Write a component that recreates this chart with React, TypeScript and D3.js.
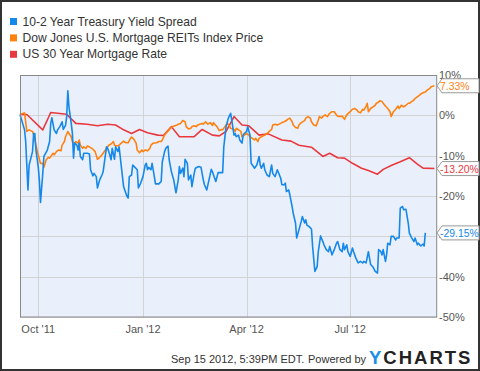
import React from "react";
import * as d3 from "d3";

const WIDTH = 480;
const HEIGHT = 371;
const plot = { left: 20, right: 436.7, top: 75, bottom: 317 };

const seriesNames = [
  "10-2 Year Treasury Yield Spread",
  "Dow Jones U.S. Mortgage REITs Index Price",
  "US 30 Year Mortgage Rate",
];
const seriesColors = ["#1588e9", "#ff8210", "#e8393f"];
const lastLabels = ["-29.15%", "7.33%", "-13.20%"];

const yTicks = [10, 0, -10, -20, -30, -40, -50];
const xTickDates = ["2011-10-01", "2012-01-01", "2012-04-01", "2012-07-01"];
const xTickLabels = ["Oct '11", "Jan '12", "Apr '12", "Jul '12"];

const spreadDates = [
  "2011-09-15", "2011-09-19", "2011-09-20", "2011-09-22", "2011-09-23", "2011-09-26", "2011-09-27", "2011-09-28", "2011-09-29",
  "2011-10-01", "2011-10-02", "2011-10-03", "2011-10-05", "2011-10-06", "2011-10-09", "2011-10-11", "2011-10-12", "2011-10-13",
  "2011-10-15", "2011-10-17", "2011-10-18", "2011-10-20", "2011-10-22", "2011-10-23", "2011-10-25", "2011-10-26", "2011-10-27",
  "2011-10-28", "2011-10-30", "2011-10-31", "2011-11-01", "2011-11-02", "2011-11-04", "2011-11-05", "2011-11-06", "2011-11-07",
  "2011-11-09", "2011-11-10", "2011-11-13", "2011-11-15", "2011-11-16", "2011-11-18", "2011-11-19", "2011-11-21", "2011-11-22",
  "2011-11-24", "2011-11-26", "2011-11-27", "2011-11-28", "2011-11-30", "2011-12-01", "2011-12-02", "2011-12-04", "2011-12-05",
  "2011-12-07", "2011-12-08", "2011-12-10", "2011-12-11", "2011-12-12", "2011-12-14", "2011-12-15", "2011-12-18", "2011-12-19",
  "2011-12-20", "2011-12-22", "2011-12-23", "2011-12-25", "2011-12-27", "2011-12-28", "2011-12-30", "2012-01-01", "2012-01-03",
  "2012-01-04", "2012-01-05", "2012-01-06", "2012-01-08", "2012-01-09", "2012-01-11", "2012-01-12", "2012-01-15", "2012-01-17",
  "2012-01-18", "2012-01-20", "2012-01-21", "2012-01-23", "2012-01-24", "2012-01-26", "2012-01-28", "2012-01-30", "2012-02-01",
  "2012-02-02", "2012-02-03", "2012-02-05", "2012-02-06", "2012-02-07", "2012-02-09", "2012-02-10", "2012-02-12", "2012-02-13",
  "2012-02-15", "2012-02-16", "2012-02-19", "2012-02-21", "2012-02-23", "2012-02-24", "2012-02-26", "2012-02-28", "2012-03-01",
  "2012-03-02", "2012-03-04", "2012-03-05", "2012-03-07", "2012-03-11", "2012-03-12", "2012-03-14", "2012-03-16", "2012-03-18",
  "2012-03-19", "2012-03-21", "2012-03-22", "2012-03-23", "2012-03-25", "2012-03-26", "2012-03-28", "2012-03-29", "2012-03-30",
  "2012-04-01", "2012-04-02", "2012-04-04", "2012-04-05", "2012-04-07", "2012-04-08", "2012-04-10", "2012-04-12", "2012-04-13",
  "2012-04-14", "2012-04-16", "2012-04-17", "2012-04-19", "2012-04-21", "2012-04-23", "2012-04-24", "2012-04-26", "2012-04-28",
  "2012-05-01", "2012-05-02", "2012-05-04", "2012-05-05", "2012-05-06", "2012-05-08", "2012-05-09", "2012-05-11", "2012-05-12",
  "2012-05-14", "2012-05-15", "2012-05-17", "2012-05-19", "2012-05-20", "2012-05-22", "2012-05-23", "2012-05-24", "2012-05-26",
  "2012-05-28", "2012-05-29", "2012-05-31", "2012-06-02", "2012-06-03", "2012-06-05", "2012-06-07", "2012-06-08", "2012-06-10",
  "2012-06-12", "2012-06-13", "2012-06-15", "2012-06-17", "2012-06-19", "2012-06-20", "2012-06-22", "2012-06-24", "2012-06-25",
  "2012-06-26", "2012-06-28", "2012-06-29", "2012-07-01", "2012-07-03", "2012-07-04", "2012-07-06", "2012-07-08", "2012-07-10",
  "2012-07-12", "2012-07-13", "2012-07-15", "2012-07-17", "2012-07-19", "2012-07-21", "2012-07-23", "2012-07-25", "2012-07-26",
  "2012-07-28", "2012-07-29", "2012-07-30", "2012-08-01", "2012-08-02", "2012-08-03", "2012-08-05", "2012-08-06", "2012-08-08",
  "2012-08-10", "2012-08-11", "2012-08-13", "2012-08-14", "2012-08-16", "2012-08-17", "2012-08-19", "2012-08-21", "2012-08-22",
  "2012-08-24", "2012-08-26", "2012-08-27", "2012-08-29", "2012-08-30", "2012-09-01", "2012-09-03", "2012-09-04", "2012-09-05",
];
const spreadValues = [
  0.2, -3.6, -6.5, -18.5, -12.3, -9, -4.5, -4.5, -8.6,
  -12.7, -16, -21.6, -14.4, -10.2, -8.6, -6.5, -2, -0.6,
  -3.6, -4.5, -3.6, -2.8, -1.6, -3.5, -2.5, -0.3, 6.1,
  2.1, -2, -4.4, -10.6, -6.9, -7.4, -8.6, -6.9, -10.2,
  -11, -9.4, -9.4, -9.6, -13.5, -15, -14.4, -15.2, -18,
  -16, -14.8, -14, -11.9, -7.8, -8.2, -9, -11, -8.2,
  -10.9, -7.8, -9, -7.8, -10.2, -15.2, -17.7, -20.1, -20.5,
  -15.2, -14.8, -12.3, -12.9, -13.5, -18, -16.8, -15.2, -12.3,
  -11.9, -13.5, -12.9, -13.5, -11.9, -15.2, -17, -17, -16.4,
  -11.5, -9, -8.2, -7.6, -11, -14, -16, -19.2, -16,
  -12.7, -14.4, -13.1, -15.2, -10.9, -11.9, -16, -14.8, -17.7,
  -14.4, -13.1, -12.7, -12.9, -16, -17.2, -18.5, -16, -13.4,
  -14, -15.6, -16.4, -14.2, -14.2, -7.8, -2.8, -0.7, 0.5,
  -1.2, -4.9, -4.5, -5.3, -4.9, -6.1, -6.9, -4.9, -4.5,
  -4, -2.8, -4.9, -11.9, -12.7, -13.1, -12.3, -10.2, -12.3,
  -13.1, -11.9, -13.5, -14.8, -15.2, -12.3, -14.4, -15.2, -13.5,
  -15.6, -17.2, -17.2, -16.8, -18.9, -18.5, -19.7, -22.6, -24.3,
  -26.7, -30.4, -28.4, -26.3, -25.1, -26.7, -25.9, -27.2, -27.6,
  -28.2, -32.5, -38.7, -37.5, -33.8, -29.9, -31.3, -32.1, -33.3,
  -33.8, -32.5, -34.6, -33.3, -31.7, -31.3, -33.3, -33.8, -31.7,
  -33.3, -32.1, -33.8, -35, -32.9, -33.8, -35.4, -36.6, -36.2,
  -36.6, -36.2, -36.6, -33.8, -37, -37.6, -38.7, -39.1, -33.3,
  -33.8, -34.6, -33.3, -36.2, -34.6, -31.7, -32.1, -30, -30,
  -30.9, -30.4, -30.4, -23, -22.6, -23.4, -23.3, -26.7, -29.2,
  -30.4, -31.3, -30.4, -32.1, -31.7, -32.4, -31.9, -32.4, -29.15,
];

const reitDates = [
  "2011-09-15", "2011-09-18", "2011-09-19", "2011-09-21", "2011-09-23", "2011-09-26", "2011-09-27", "2011-09-29", "2011-10-01",
  "2011-10-03", "2011-10-05", "2011-10-06", "2011-10-08", "2011-10-10", "2011-10-11", "2011-10-13", "2011-10-14", "2011-10-15",
  "2011-10-17", "2011-10-19", "2011-10-21", "2011-10-22", "2011-10-24", "2011-10-25", "2011-10-27", "2011-10-28", "2011-10-30",
  "2011-10-31", "2011-11-02", "2011-11-03", "2011-11-05", "2011-11-06", "2011-11-07", "2011-11-09", "2011-11-10", "2011-11-12",
  "2011-11-13", "2011-11-15", "2011-11-17", "2011-11-18", "2011-11-20", "2011-11-22", "2011-11-24", "2011-11-26", "2011-11-27",
  "2011-11-29", "2011-12-01", "2011-12-02", "2011-12-04", "2011-12-06", "2011-12-07", "2011-12-09", "2011-12-11", "2011-12-13",
  "2011-12-15", "2011-12-17", "2011-12-19", "2011-12-21", "2011-12-22", "2011-12-24", "2011-12-26", "2011-12-27", "2011-12-29",
  "2011-12-31", "2012-01-01", "2012-01-03", "2012-01-05", "2012-01-07", "2012-01-08", "2012-01-10", "2012-01-13", "2012-01-15",
  "2012-01-17", "2012-01-18", "2012-01-20", "2012-01-21", "2012-01-24", "2012-01-25", "2012-01-27", "2012-01-29", "2012-01-31",
  "2012-02-01", "2012-02-03", "2012-02-05", "2012-02-07", "2012-02-08", "2012-02-10", "2012-02-12", "2012-02-13", "2012-02-15",
  "2012-02-17", "2012-02-18", "2012-02-20", "2012-02-22", "2012-02-23", "2012-02-25", "2012-02-27", "2012-02-29", "2012-03-02",
  "2012-03-03", "2012-03-04", "2012-03-06", "2012-03-08", "2012-03-10", "2012-03-11", "2012-03-13", "2012-03-15", "2012-03-17",
  "2012-03-18", "2012-03-21", "2012-03-22", "2012-03-23", "2012-03-25", "2012-03-27", "2012-03-28", "2012-03-30", "2012-04-01",
  "2012-04-03", "2012-04-04", "2012-04-06", "2012-04-08", "2012-04-09", "2012-04-11", "2012-04-12", "2012-04-14", "2012-04-17",
  "2012-04-19", "2012-04-21", "2012-04-23", "2012-04-24", "2012-04-26", "2012-04-28", "2012-05-01", "2012-05-02", "2012-05-04",
  "2012-05-06", "2012-05-07", "2012-05-09", "2012-05-11", "2012-05-12", "2012-05-14", "2012-05-16", "2012-05-17", "2012-05-19",
  "2012-05-22", "2012-05-23", "2012-05-25", "2012-05-27", "2012-05-28", "2012-05-30", "2012-06-01", "2012-06-02", "2012-06-04",
  "2012-06-06", "2012-06-07", "2012-06-09", "2012-06-11", "2012-06-13", "2012-06-15", "2012-06-17", "2012-06-19", "2012-06-20",
  "2012-06-22", "2012-06-24", "2012-06-26", "2012-06-28", "2012-07-01", "2012-07-03", "2012-07-05", "2012-07-07", "2012-07-08",
  "2012-07-10", "2012-07-12", "2012-07-13", "2012-07-15", "2012-07-16", "2012-07-17", "2012-07-19", "2012-07-21", "2012-07-23",
  "2012-07-24", "2012-07-25", "2012-07-27", "2012-07-29", "2012-07-30", "2012-08-01", "2012-08-03", "2012-08-05", "2012-08-06",
  "2012-08-08", "2012-08-10", "2012-08-12", "2012-08-13", "2012-08-15", "2012-08-17", "2012-08-19", "2012-08-21", "2012-08-22",
  "2012-08-24", "2012-08-26", "2012-08-27", "2012-08-29", "2012-08-31", "2012-09-01", "2012-09-03", "2012-09-05", "2012-09-07",
  "2012-09-09", "2012-09-10", "2012-09-13",
];
const reitValues = [
  0.2, 0.5, 0.6, -4, -3.6, -4, -4.9, -7.4, -9.8,
  -11.9, -11.9, -12.9, -11, -10.4, -10.6, -9.8, -9.4, -9.8,
  -9, -8.6, -8.8, -7.4, -6.5, -5.3, -4, -4.5, -5.3,
  -6.5, -6.9, -6.5, -6.9, -6.1, -7.4, -8.2, -7.8, -8.2,
  -7.6, -7.8, -8.2, -8.4, -9, -10.9, -10.4, -9.8, -9.4,
  -8.6, -7.8, -7.4, -7.1, -6.5, -7.4, -7.6, -7.4, -6.9,
  -6.4, -6.8, -6.8, -5.7, -5.4, -5.9, -6.9, -8.6, -9.3,
  -8.6, -9, -8.6, -8.8, -8.2, -7.4, -6.9, -6.8, -6.5,
  -6.5, -6.1, -4.9, -4.5, -3.6, -3.2, -2.8, -2.6, -2.4,
  -2.2, -2, -1.3, -1.6, -2.8, -3.4, -3.2, -2.8, -2.6,
  -2.8, -2.4, -2.2, -2, -2.2, -1.6, -2.2, -1.8, -2.5,
  -1.8, -2.2, -2.8, -3.8, -3.5, -3.6, -2.8, -2, -2.6,
  -3.2, -3.5, -4, -3.2, -3.6, -4, -5.3, -4.9, -4.5,
  -4.9, -5.3, -5.7, -6.1, -5.7, -6.5, -5.7, -5.3, -4.9,
  -4.5, -4, -3.5, -2.4, -2.2, -2.4, -2, -1.8, -1.6,
  -1.3, -1, -0.7, -1.6, -2.4, -3, -3.2, -2.4, -1.8,
  -1.3, -0.7, -0.3, -0.7, -1.6, -2.4, -2.6, -2, -0.3,
  -0.7, -0.3, 0.1, -0.3, 0.5, 0.9, 0.9, 0.1, -0.2,
  -0.3, -0.2, -1, 0.1, 0.9, 1.5, 1.7, 1.3, 0.9,
  0.6, 1.5, 1.3, 2.3, 3, 0.9, 1.7, 2.1, 2.5,
  3, 3.1, 3.6, 3.4, 3, 2.3, 1.7, 0.9, -0.3,
  0.9, 1.5, 2.3, 1.7, 2.5, 2.1, 2.5, 3, 3,
  3.4, 3.8, 4.2, 4.6, 5, 5.3, 5.6, 5.8, 6.3,
  6.7, 7.1, 7.33,
];

const rateDates = [
  "2011-09-15", "2011-09-21", "2011-10-05", "2011-10-12", "2011-10-26", "2011-11-03", "2011-11-13", "2011-11-22",
  "2011-12-01", "2011-12-08", "2011-12-15", "2011-12-22", "2011-12-29", "2012-01-05", "2012-01-14", "2012-01-19",
  "2012-01-26", "2012-02-02", "2012-02-15", "2012-02-22", "2012-03-02", "2012-03-08", "2012-03-14", "2012-03-21",
  "2012-03-28", "2012-04-03", "2012-04-12", "2012-04-20", "2012-05-02", "2012-05-10", "2012-05-17", "2012-05-28",
  "2012-06-07", "2012-06-13", "2012-06-20", "2012-06-26", "2012-07-03", "2012-07-11", "2012-07-17", "2012-07-25",
  "2012-07-30", "2012-08-07", "2012-08-14", "2012-08-22", "2012-08-29", "2012-09-03", "2012-09-13",
];
const rateValues = [
  0.2, 0.2, -3.6, 0.7, 0.25, -2, -2.2, -2.6,
  -2.2, -2.4, -3.6, -4.5, -3.5, -4.3, -4.9, -5,
  -2.8, -5.3, -5.3, -3.5, -4.9, -5.1, -4, -0.3,
  -2.4, -2.6, -4.9, -4.6, -6.1, -6.4, -7.4, -7.9,
  -10.2, -9.4, -10.5, -10.6, -11.9, -13.1, -13.7, -14.6,
  -13.4, -12.3, -11.5, -10.5, -12.1, -13.1, -13.2,
];

const parse = d3.timeParse("%Y-%m-%d");

const series = [
  { dates: spreadDates, values: spreadValues },
  { dates: reitDates, values: reitValues },
  { dates: rateDates, values: rateValues },
].map((s, i) => ({
  name: seriesNames[i],
  color: seriesColors[i],
  label: lastLabels[i],
  points: s.dates.map((d, j) => ({ date: parse(d) as Date, value: s.values[j] })),
}));

const xScale = d3
  .scaleTime()
  .domain([parse("2011-09-15") as Date, parse("2012-09-15") as Date])
  .range([plot.left, plot.right]);

const yScale = d3.scaleLinear().domain([-50, 10]).range([plot.bottom, plot.top]);

const line = d3
  .line<{ date: Date; value: number }>()
  .x((d) => xScale(d.date))
  .y((d) => yScale(d.value));

const font = "'Liberation Sans', Arial, sans-serif";

function tagPath(cy: number) {
  const x0 = 437;
  const x1 = 479;
  const h = 7;
  return `M${x0},${cy} L${x0 + 5},${cy - h} L${x1},${cy - h} L${x1},${cy + h} L${x0 + 5},${cy + h} Z`;
}

export default function App() {
  // draw order: red, orange, blue on top
  const drawOrder = [2, 1, 0];

  return (
    <div style={{ position: "fixed", left: 0, top: 0 }}>
      <svg width={WIDTH} height={HEIGHT} style={{ display: "block", fontFamily: font }}>
        <rect x={0} y={0} width={WIDTH} height={HEIGHT} fill="#fff" />
        <rect x={1} y={1} width={WIDTH - 2} height={HEIGHT - 2} fill="none" stroke="#333" strokeWidth={2} />

        {/* legend */}
        {series.map((s, i) => (
          <g key={s.name} transform={`translate(10, ${18 + i * 16.4})`}>
            <rect x={0} y={0} width={7} height={7} fill={s.color} />
            <text x={12.5} y={7.5} fontSize={12.1} fill="#333">
              {s.name}
            </text>
          </g>
        ))}

        {/* plot background */}
        <rect
          x={plot.left}
          y={plot.top}
          width={plot.right - plot.left}
          height={plot.bottom - plot.top}
          fill="#eaf0fb"
        />

        {/* grid */}
        {yTicks.map((t) => (
          <line
            key={t}
            x1={plot.left}
            x2={plot.right}
            y1={Math.round(yScale(t)) + 0.5}
            y2={Math.round(yScale(t)) + 0.5}
            stroke="#d3d3d3"
          />
        ))}
        {xTickDates.map((d) => {
          const x = Math.round(xScale(parse(d) as Date)) + 0.5;
          return <line key={d} x1={x} x2={x} y1={plot.top} y2={plot.bottom} stroke="#d3d3d3" />;
        })}

        {/* series */}
        {drawOrder.map((i) => (
          <path
            key={series[i].name}
            d={line(series[i].points) || ""}
            fill="none"
            stroke={series[i].color}
            strokeWidth={1.6}
            strokeLinejoin="round"
          />
        ))}

        <rect
          x={plot.left + 0.5}
          y={plot.top + 0.5}
          width={plot.right - plot.left - 0.5}
          height={plot.bottom - plot.top - 0.5}
          fill="none"
          stroke="#888"
        />

        {/* right axis labels */}
        {yTicks.map((t) => (
          <text key={t} x={439} y={yScale(t) + 4} fontSize={11} fill="#555">
            {`${t}%`}
          </text>
        ))}

        {/* x axis labels */}
        {xTickDates.map((d, i) => (
          <text
            key={d}
            x={xScale(parse(d) as Date)}
            y={333}
            fontSize={11}
            fill="#555"
            textAnchor="middle"
          >
            {xTickLabels[i]}
          </text>
        ))}

        {/* last value tags */}
        {series.map((s) => {
          const last = s.points[s.points.length - 1];
          const cy = yScale(last.value);
          return (
            <g key={s.name}>
              <path d={tagPath(cy)} fill="#fff" stroke="#999" />
              <text x={440} y={cy + 4} fontSize={10.4} fill={s.color}>
                {s.label}
              </text>
            </g>
          );
        })}

        {/* footer */}
        <text x={171} y={363} fontSize={11} fill="#333">
          Sep 15 2012, 5:39PM EDT.
        </text>
        <text x={308} y={363} fontSize={11} fill="#333">
          Powered by
        </text>
        <text x={369} y={363.5} fontSize={18.5} fontWeight="bold" letterSpacing={2}>
          <tspan fill="#1a8fe8">Y</tspan>
          <tspan fill="#222">CHARTS</tspan>
        </text>
      </svg>
    </div>
  );
}
